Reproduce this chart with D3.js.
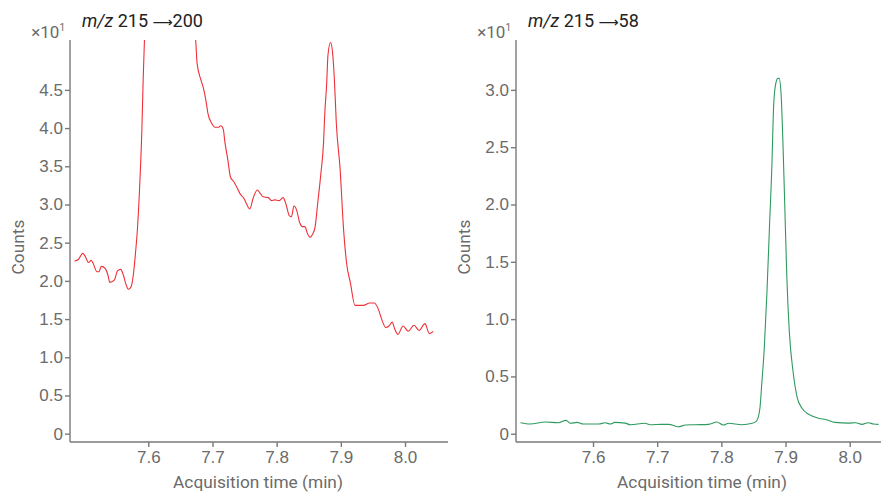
<!DOCTYPE html>
<html>
<head>
<meta charset="utf-8">
<script src="https://cdn.jsdelivr.net/npm/d3@7"></script>
<style>
  body { margin: 0; background: #fff; }
  svg { display: block; font-family: Roboto, "Noto Sans", sans-serif; }
  .tick text { fill: #6b6b6b; font-size: 17px; }
  .domain, .tick line { stroke: #7a7a7a; stroke-width: 1.4; }
</style>
</head>
<body>
<div id="chart"></div>
<script>
// acquisition time (min) and counts (x10^1) for m/z 215 -> 200
var timesA = [7.485, 7.491, 7.498, 7.501, 7.507, 7.511, 7.514, 7.520, 7.523, 7.527, 7.533, 7.537,
  7.540, 7.547, 7.552, 7.557, 7.561, 7.565, 7.569, 7.573, 7.577, 7.580, 7.583, 7.587, 7.590, 7.592,
  7.594, 7.600, 7.610, 7.620, 7.630, 7.640, 7.650, 7.660, 7.668, 7.674, 7.676, 7.682, 7.686, 7.690,
  7.693, 7.699, 7.704, 7.709, 7.713, 7.717, 7.719, 7.724, 7.728, 7.733, 7.739, 7.743, 7.749, 7.753,
  7.758, 7.764, 7.770, 7.774, 7.779, 7.787, 7.792, 7.797, 7.804, 7.810, 7.814, 7.820, 7.823, 7.827,
  7.831, 7.836, 7.840, 7.844, 7.848, 7.852, 7.856, 7.860, 7.864, 7.869, 7.873, 7.875, 7.878, 7.880,
  7.884, 7.887, 7.890, 7.893, 7.899, 7.904, 7.909, 7.915, 7.922, 7.927, 7.935, 7.945, 7.952, 7.958,
  7.964, 7.970, 7.975, 7.980, 7.984, 7.989, 7.997, 8.005, 8.014, 8.022, 8.031, 8.038, 8.044];
var countsA = [2.26, 2.28, 2.36, 2.33, 2.24, 2.27, 2.23, 2.12, 2.12, 2.19, 2.16, 2.08,
  1.98, 2.01, 2.13, 2.15, 2.08, 1.96, 1.89, 1.92, 2.10, 2.36, 2.67, 3.32, 3.98, 4.63,
  5.15, 6.0, 7.0, 7.7, 8.0, 7.7, 6.9, 6.0, 5.45, 5.13, 4.85, 4.63, 4.52, 4.35,
  4.19, 4.06, 4.01, 4.01, 4.03, 3.98, 3.84, 3.58, 3.36, 3.30, 3.21, 3.14, 3.08, 3.01,
  2.94, 3.10, 3.19, 3.15, 3.10, 3.09, 3.05, 3.06, 3.05, 3.09, 3.02, 2.85, 2.84, 2.98,
  2.93, 2.76, 2.71, 2.71, 2.62, 2.57, 2.61, 2.71, 3.02, 3.41, 3.80, 4.19, 4.59, 4.96,
  5.12, 5.00, 4.63, 4.06, 3.45, 2.71, 2.23, 1.97, 1.68, 1.68, 1.68, 1.71, 1.71, 1.64,
  1.49, 1.39, 1.41, 1.46, 1.37, 1.30, 1.41, 1.34, 1.42, 1.35, 1.44, 1.31, 1.34];

// m/z 215 -> 58
var timesB = [7.487, 7.502, 7.526, 7.546, 7.558, 7.565, 7.575, 7.585, 7.609, 7.619, 7.627, 7.634,
  7.650, 7.658, 7.681, 7.689, 7.707, 7.718, 7.733, 7.744, 7.759, 7.780, 7.793, 7.803, 7.811,
  7.832, 7.848, 7.855, 7.860, 7.863, 7.867, 7.871, 7.875, 7.879, 7.881, 7.884, 7.888, 7.890,
  7.893, 7.896, 7.899, 7.902, 7.906, 7.912, 7.918, 7.926, 7.936, 7.949, 7.965, 7.977, 7.998,
  8.009, 8.019, 8.029, 8.037, 8.045];
var countsB = [0.096, 0.085, 0.102, 0.096, 0.117, 0.091, 0.099, 0.085, 0.085, 0.096, 0.085, 0.099,
  0.093, 0.079, 0.091, 0.079, 0.082, 0.082, 0.061, 0.076, 0.079, 0.082, 0.102, 0.076, 0.091,
  0.079, 0.091, 0.113, 0.22, 0.44, 0.76, 1.23, 1.81, 2.39, 2.80, 3.03, 3.10, 3.10,
  2.97, 2.53, 1.95, 1.37, 0.88, 0.53, 0.32, 0.22, 0.17, 0.14, 0.12, 0.099, 0.093,
  0.096, 0.082, 0.096, 0.085, 0.082];

var ticksA = [0, 0.5, 1.0, 1.5, 2.0, 2.5, 3.0, 3.5, 4.0, 4.5];
var ticksB = [0, 0.5, 1.0, 1.5, 2.0, 2.5, 3.0];
var timeTicks = [7.6, 7.7, 7.8, 7.9, 8.0];

var width = 881, height = 493;

var svg = d3.select('#chart')
  .append('svg')
  .attr('width', width)
  .attr('height', height);

var panels = [
  { id: 'a', left: 70, xDomain: [7.478, 8.067], yDomain: [-0.109, 5.153], times: timesA, counts: countsA,
    yTicks: ticksA, color: '#ee3038', product: '200', titleX: 258 },
  { id: 'b', left: 516, xDomain: [7.48, 8.069], yDomain: [-0.072, 3.435], times: timesB, counts: countsB,
    yTicks: ticksB, color: '#2f9a5f', product: '58', titleX: 702 }
];

var plotTop = 40, plotBottom = 442, plotWidth = 378;

panels.forEach(function(p) {
  var x = d3.scaleLinear().domain(p.xDomain).range([p.left, p.left + plotWidth]);
  var y = d3.scaleLinear().domain(p.yDomain).range([plotBottom, plotTop]);

  var g = svg.append('g');

  g.append('clipPath')
    .attr('id', 'clip-' + p.id)
    .append('rect')
    .attr('x', p.left)
    .attr('y', plotTop)
    .attr('width', plotWidth)
    .attr('height', plotBottom - plotTop);

  var points = p.times.map(function(t, i) { return [t, p.counts[i]]; });

  var line = d3.line()
    .x(function(d) { return x(d[0]); })
    .y(function(d) { return y(d[1]); })
    .curve(d3.curveMonotoneX);

  g.append('path')
    .datum(points)
    .attr('clip-path', 'url(#clip-' + p.id + ')')
    .attr('fill', 'none')
    .attr('stroke', p.color)
    .attr('stroke-width', 1.1)
    .attr('d', line);

  var xAxis = g.append('g')
    .attr('transform', 'translate(0,' + plotBottom + ')')
    .call(d3.axisBottom(x).tickValues(timeTicks).tickSize(5).tickPadding(4).tickFormat(d3.format('.1f')));
  xAxis.select('.domain').attr('d', 'M' + p.left + ',0H' + (p.left + plotWidth));

  var yAxis = g.append('g')
    .attr('transform', 'translate(' + p.left + ',0)')
    .call(d3.axisLeft(y).tickValues(p.yTicks).tickSize(5).tickPadding(2)
      .tickFormat(function(d) { return d === 0 ? '0' : d3.format('.1f')(d); }));
  yAxis.select('.domain').attr('d', 'M0,' + plotTop + 'V' + plotBottom);

  // multiplier
  var mult = g.append('text')
    .attr('x', p.left - 5)
    .attr('y', 38)
    .attr('text-anchor', 'end')
    .attr('fill', '#6b6b6b')
    .style('font-size', '17px');
  mult.append('tspan').text('\u00d710');
  mult.append('tspan').attr('dy', -7).style('font-size', '10px').text('1');

  // title
  var title = g.append('text')
    .attr('x', p.left + 12)
    .attr('y', 27)
    .attr('fill', '#222')
    .style('font-size', '18px');
  title.append('tspan').style('font-style', 'italic').text('m/z');
  title.append('tspan').text(' 215 ');
  title.append('tspan').style('font-family', '"DejaVu Sans", sans-serif').style('font-size', '14px').text('\u27f6');
  title.append('tspan').text(p.product);

  // axis titles
  g.append('text')
    .attr('x', p.titleX)
    .attr('y', 488)
    .attr('text-anchor', 'middle')
    .attr('fill', '#6b6b6b')
    .style('font-size', '17.3px')
    .text('Acquisition time (min)');

  g.append('text')
    .attr('transform', 'translate(' + (p.left - 46) + ',' + 247 + ') rotate(-90)')
    .attr('text-anchor', 'middle')
    .attr('fill', '#6b6b6b')
    .style('font-size', '17.3px')
    .text('Counts');
});
</script>
</body>
</html>
